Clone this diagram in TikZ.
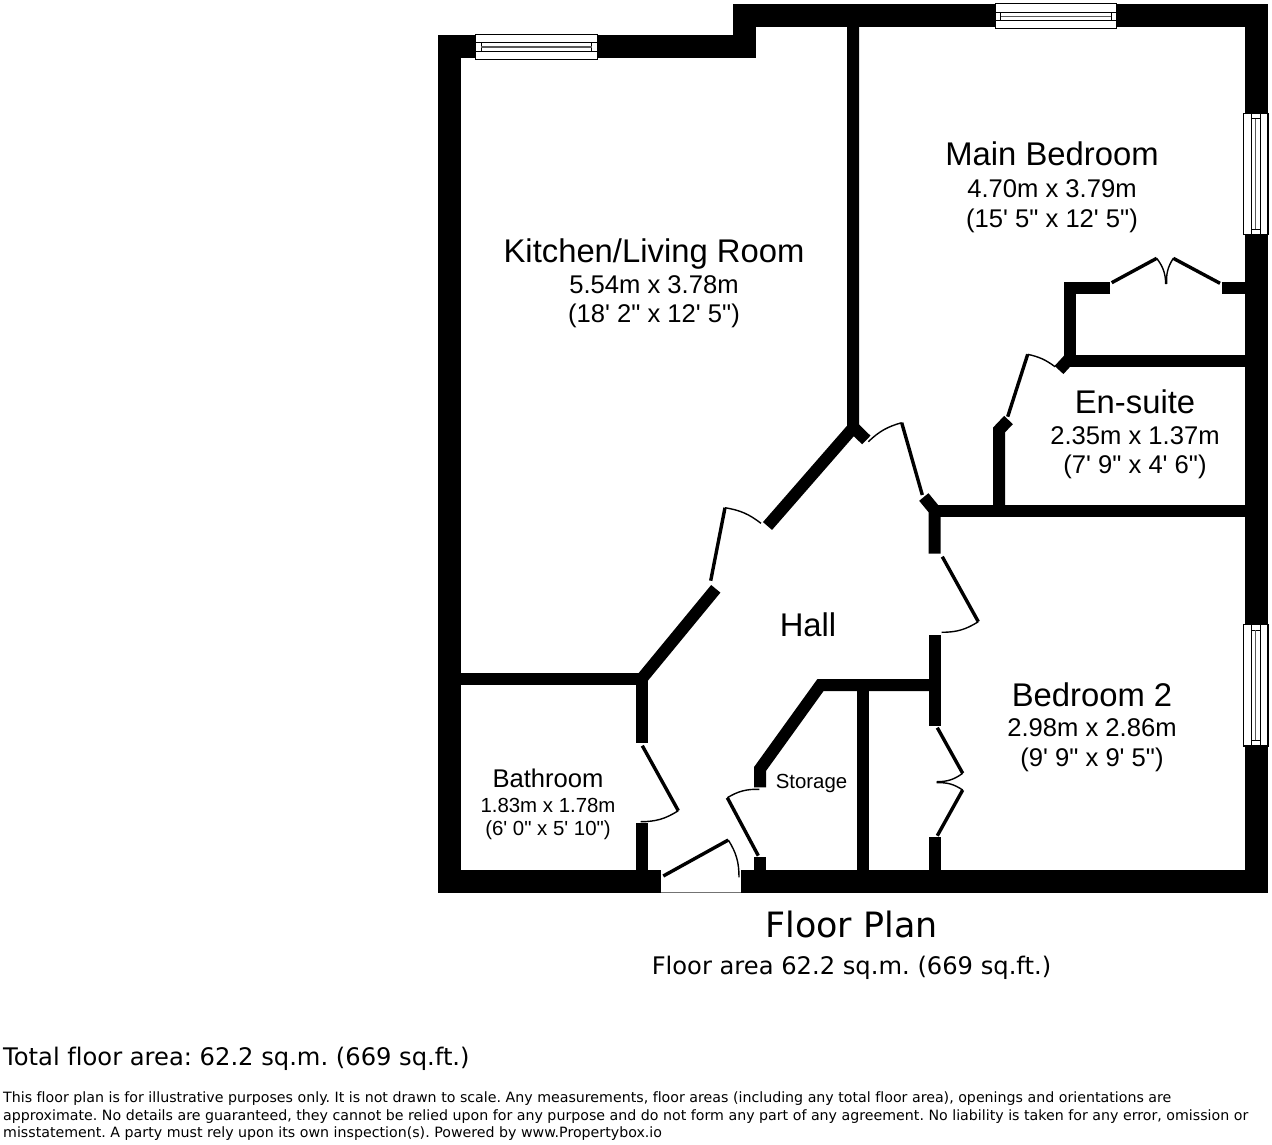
\documentclass[tikz,border=0pt]{standalone}
\usepackage{fontspec}
\usepackage{tikz}
\newfontfamily\armfont{Liberation Sans}
\newfontfamily\vfont[Ligatures=NoCommon]{DejaVu Sans}
\frenchspacing
% window across a wall, centre and angle
\newcommand{\planwindow}[3]{
  \begin{scope}[shift={(#1,#2)},rotate=#3]
    \draw[winframe] (-60.7,-12.4) rectangle (60.7,12.4);
    \draw[winline] (-60.7,-4) -- (60.7,-4) (-60.7,4.5) -- (60.7,4.5);
    \draw[winline] (-55.2,-4) -- (-55.2,4.5) (55.2,-4) -- (55.2,4.5);
    \draw[winbar] (-55.2,0.2) -- (55.2,0.2);
  \end{scope}}
\begin{document}
\begin{tikzpicture}[x=1pt,y=-1pt,line cap=butt,
                    outerwall/.style={line width=23pt,miter limit=10},
                    wall/.style={line width=12pt,miter limit=10},
                    doorleaf/.style={line width=3.4pt},
                    doorswing/.style={line width=1.4pt},
                    winframe/.style={draw=black,fill=white,line width=1.2pt},
                    winline/.style={draw=black,line width=0.9pt},
                    winbar/.style={draw=black!65,line width=1.4pt},
                    roomname/.style={anchor=base,inner sep=0pt,font=\armfont\fontsize{32.8}{34}\selectfont},
                    roomdim/.style={anchor=base,inner sep=0pt,font=\armfont\fontsize{25.6}{27}\selectfont},
                    smalldim/.style={anchor=base,inner sep=0pt,font=\armfont\fontsize{20.4}{22}\selectfont},
                    caption/.style={anchor=base,inner sep=0pt,font=\vfont\fontsize{24.2}{26}\selectfont},
                    notetext/.style={anchor=base west,inner sep=0pt,font=\vfont\fontsize{14.2}{16}\selectfont}]

  \useasboundingbox (0,0) rectangle (1272,1144);

  % outer walls
  \draw[outerwall] (660.7,881.5) -- (449,881.5) -- (449,46.2) -- (744.5,46.2)
                   -- (744.5,15.7) -- (1256,15.7) -- (1256,881.5) -- (740.7,881.5);
  \draw[black!55,line width=0.8pt] (660.7,892) -- (740.7,892);

  % inner walls
  \draw[wall] (853,25) -- (853,428) -- (767.5,526);
  \draw[wall] (853,427) -- (866.3,440);
  \draw[wall] (715.8,588.8) -- (641.5,679);
  \draw[wall] (459,679) -- (641.5,679) -- (641.5,743.3);
  \draw[wall] (641.5,823.3) -- (641.5,871);
  \draw[wall] (923.8,497) -- (934.5,510) -- (934.5,553.7);
  \draw[wall] (934.5,511) -- (1246,511);
  \draw[wall] (934.5,635) -- (934.5,725.7);
  \draw[wall] (934.5,837.3) -- (934.5,871);
  \draw[wall] (934,685) -- (820.5,685) -- (760,769) -- (760,787.3);
  \draw[wall] (760,857.3) -- (760,871);
  \draw[wall] (862.5,685) -- (862.5,871);
  \draw[wall] (999,511) -- (999,430) -- (1008.5,420);
  \draw[wall] (1070,358) -- (1059,370);
  \draw[wall] (1065,361) -- (1246,361);
  \draw[wall] (1110,288.3) -- (1070,288.3) -- (1070,361);
  \draw[wall] (1221.7,288.3) -- (1246,288.3);

  % windows
  \planwindow{536.5}{46.7}{0}
  \planwindow{1056}{16}{0}
  \planwindow{1255.5}{173.8}{90}
  \planwindow{1255.5}{685.2}{90}

  % entrance gap
  \draw[doorleaf] (663.3,876) -- (728.3,840);
  \draw[doorswing] (728.3,840) to[bend left=16] (739,877.3);

  % doors
  \draw[doorleaf] (642.3,745.7) -- (678.3,810.7);
  \draw[doorswing] (678.3,810.7) to[bend left=16] (640.7,821.7);
  \draw[doorleaf] (758.3,855.7) -- (727.3,797.7);
  \draw[doorswing] (727.3,797.7) to[bend left=16] (759.3,789.3);
  \draw[doorleaf] (710.7,580.7) -- (725,507.7);
  \draw[doorswing] (725,507.7) to[bend left=14] (761,523.3);
  \draw[doorleaf] (922.3,495) -- (901.7,422.7);
  \draw[doorswing] (901.7,422.7) to[bend right=14] (868.3,441.7);
  \draw[doorleaf] (942.3,556.7) -- (978.3,621.7);
  \draw[doorswing] (978.3,621.7) to[bend left=16] (941.7,632.3);
  \draw[doorleaf] (1007.7,416.7) -- (1027.7,354.3);
  \draw[doorswing] (1027.7,354.3) to[bend left=12] (1055,366.7);

  % closet doors
  \draw[doorleaf] (1111.7,282.7) -- (1156.7,258.3);
  \draw[doorswing] (1156.7,258.3) to[bend left=18] (1165.7,284);
  \draw[doorleaf] (1220,283.3) -- (1173.3,258.3);
  \draw[doorswing] (1173.3,258.3) to[bend right=18] (1166.7,284);
  \draw[doorleaf] (937.3,727.7) -- (962.7,773.3);
  \draw[doorswing] (962.7,773.3) to[bend left=18] (936.7,781.7);
  \draw[doorleaf] (937.3,835.7) -- (962.7,790);
  \draw[doorswing] (962.7,790) to[bend right=18] (936.7,782.7);

  % room labels
  \node[roomname] (kitchen)  at (654,262) {Kitchen/Living Room};
  \node[roomdim]  (kitchenA) at (654,293) {5.54m x 3.78m};
  \node[roomdim]  (kitchenB) at (654,322) {(18' 2" x 12' 5")};
  \node[roomname] (mainbed)  at (1052,165.7) {Main Bedroom};
  \node[roomdim]  (mainbedA) at (1052,197) {4.70m x 3.79m};
  \node[roomdim]  (mainbedB) at (1052,227) {(15' 5" x 12' 5")};
  \node[roomname] (ensuite)  at (1135,413.5) {En-suite};
  \node[roomdim]  (ensuiteA) at (1135,444) {2.35m x 1.37m};
  \node[roomdim]  (ensuiteB) at (1135,473.5) {(7' 9" x 4' 6")};
  \node[roomname] (bedtwo)   at (1092,706) {Bedroom 2};
  \node[roomdim]  (bedtwoA)  at (1092,736) {2.98m x 2.86m};
  \node[roomdim]  (bedtwoB)  at (1092,766) {(9' 9" x 9' 5")};
  \node[roomdim]  (bathroom) at (548,787) {Bathroom};
  \node[smalldim] (bathroomA) at (548,812) {1.83m x 1.78m};
  \node[smalldim] (bathroomB) at (548,835) {(6' 0" x 5' 10")};
  \node[roomname] (hall)     at (808,636) {Hall};
  \node[smalldim] (storage)  at (811.5,788) {Storage};

  % captions
  \node[anchor=base,inner sep=0pt,font=\vfont\fontsize{34.9}{36}\selectfont] (plantitle) at (851.5,937) {Floor Plan};
  \node[caption] (planarea) at (851.5,974) {Floor area 62.2 sq.m. (669 sq.ft.)};
  \node[caption,anchor=base west] (totalarea) at (3,1065) {Total floor area: 62.2 sq.m. (669 sq.ft.)};
  \node[notetext] (noteone) at (3,1102) {This floor plan is for illustrative purposes only. It is not drawn to scale. Any measurements, floor areas (including any total floor area), openings and orientations are};
  \node[notetext] (notetwo) at (3,1120) {approximate. No details are guaranteed, they cannot be relied upon for any purpose and do not form any part of any agreement. No liability is taken for any error, omission or};
  \node[notetext] (notethree) at (3,1137) {misstatement. A party must rely upon its own inspection(s). Powered by www.Propertybox.io};
\end{tikzpicture}
\end{document}
